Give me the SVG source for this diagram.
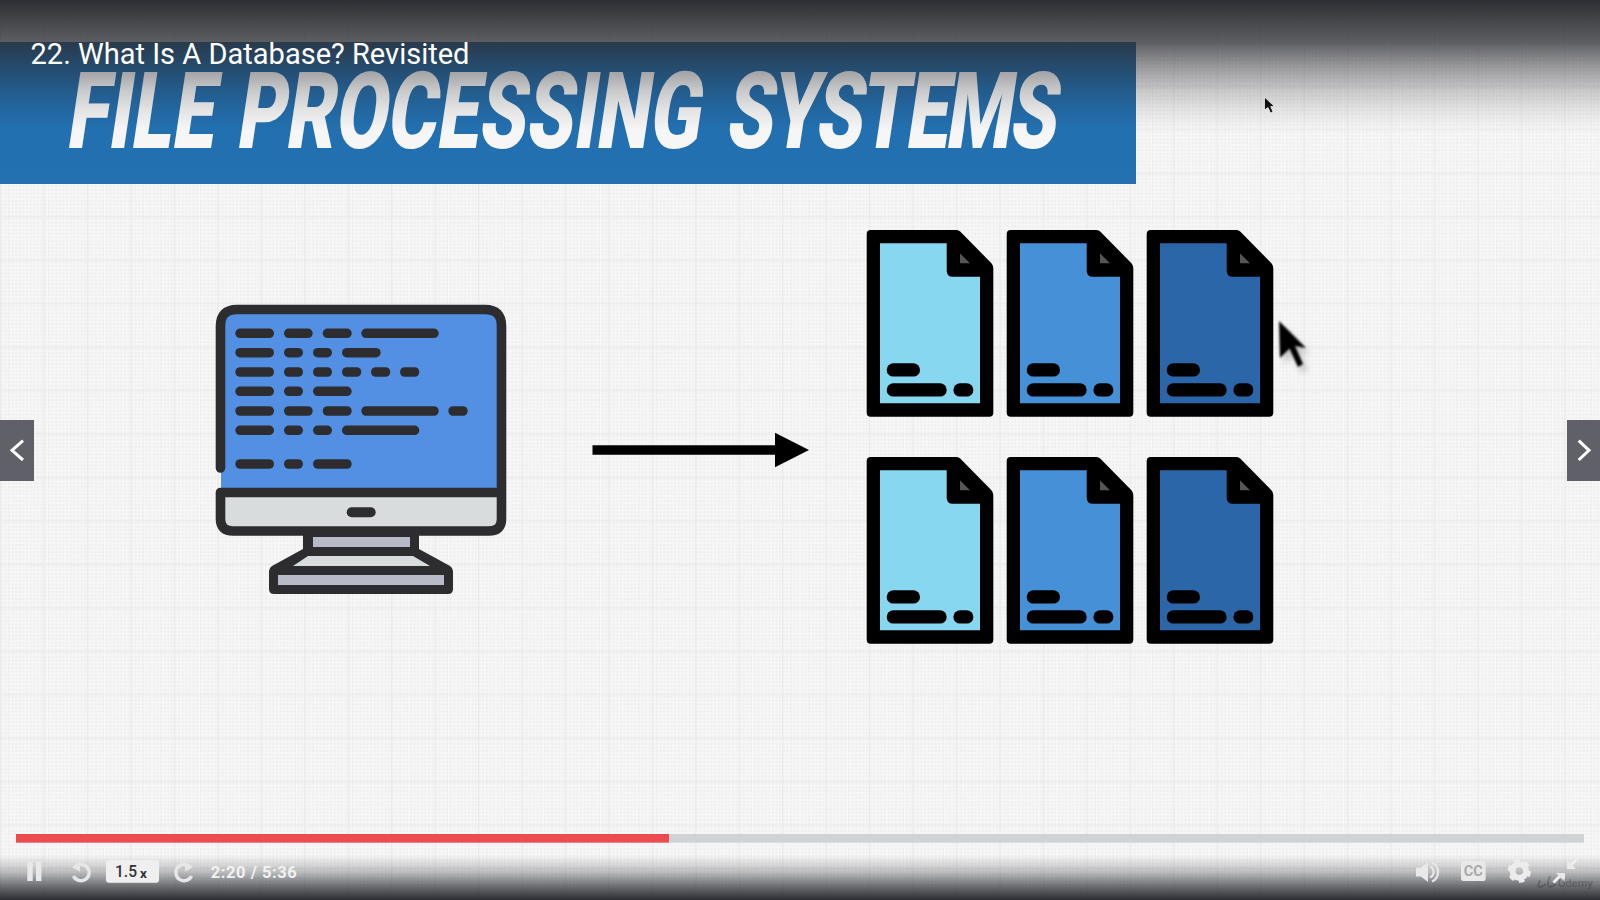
<svg xmlns="http://www.w3.org/2000/svg" width="1600" height="900" viewBox="0 0 1600 900">
<style>
.c{fill:#2d2d2f}
.ic{fill:#e9e9e9}
.st{fill:none;stroke:#e6e6e6;stroke-width:3.4}
.bar{fill:#000}
text{font-family:Roboto,"Liberation Sans",sans-serif}
</style>
<defs>
<pattern id="dots" width="3.62" height="3.62" patternUnits="userSpaceOnUse"><rect width="3.62" height="3.62" fill="#f6f6f6"/><circle cx="1.8" cy="1.8" r="0.9" fill="#ebebeb"/></pattern>
<pattern id="grid" width="43.45" height="43.45" x="0" y="-1" patternUnits="userSpaceOnUse"><path d="M0 0H43.45M0 0V43.45" stroke="#eaeaea" stroke-width="2.4" fill="none"/></pattern>
<linearGradient id="bannerG" x1="0" y1="0" x2="0" y2="1"><stop offset="0" stop-color="#1e5f98"/><stop offset="0.6" stop-color="#2270b0"/><stop offset="1" stop-color="#2470b0"/></linearGradient>
<linearGradient id="topG" x1="0" y1="0" x2="0" y2="1"><stop offset="0" stop-color="#2d2e33" stop-opacity="1"/><stop offset="0.32" stop-color="#2d2e33" stop-opacity="0.76"/><stop offset="0.5" stop-color="#2d2e33" stop-opacity="0.48"/><stop offset="0.7" stop-color="#2d2e33" stop-opacity="0.22"/><stop offset="0.85" stop-color="#2d2e33" stop-opacity="0.09"/><stop offset="1" stop-color="#2d2e33" stop-opacity="0"/></linearGradient>
<linearGradient id="botG" x1="0" y1="0" x2="0" y2="1"><stop offset="0" stop-color="#2b2d33" stop-opacity="0"/><stop offset="0.35" stop-color="#2b2d33" stop-opacity="0.25"/><stop offset="0.7" stop-color="#2b2d33" stop-opacity="0.68"/><stop offset="1" stop-color="#2b2d33" stop-opacity="1"/></linearGradient>
<filter id="blur" x="-40%" y="-40%" width="180%" height="180%"><feGaussianBlur stdDeviation="3"/></filter>
<filter id="soft" x="-20%" y="-20%" width="140%" height="140%"><feGaussianBlur stdDeviation="0.8"/></filter>
<marker id="head" markerUnits="userSpaceOnUse" markerWidth="35" markerHeight="36" refX="0.5" refY="18" orient="auto"><path d="M0 0.5L34.5 18L0 35.5Z" fill="#000"/></marker>
<g id="doc">
<path fill="#000" d="M4 0H90Q92 0 93.5 1.5L124.5 33Q126.6 35 126.6 38V182.7Q126.6 186.7 122.6 186.7H4Q0 186.7 0 182.7V4Q0 0 4 0Z"/>
<path d="M13.3 13.3H80V40.7Q80 46.7 86 46.7H113.3V173.3H13.3Z"/>
<path fill="#555" d="M93.3 23.3L103.3 33.3H93.3Z"/>
<rect class="bar" x="20" y="133.3" width="33.3" height="13.3" rx="6.67"/>
<rect class="bar" x="20" y="153.3" width="60" height="13.3" rx="6.67"/>
<rect class="bar" x="86.7" y="153.3" width="20" height="13.3" rx="6.67"/>
</g>
</defs>

<rect width="1600" height="900" fill="url(#dots)"/>
<rect width="1600" height="900" fill="url(#grid)"/>

<g id="banner">
<rect x="0" y="42" width="1136" height="142" fill="url(#bannerG)"/>
<text transform="translate(65 148) skewX(-8.5) scale(0.705 1)" font-weight="900" font-size="107" fill="#f6f6f6">FILE <tspan x="241">PROCESSING</tspan> <tspan x="935" letter-spacing="-3.2">SYSTEMS</tspan></text>
</g>

<rect id="top-shade" x="0" y="0" width="1600" height="130" fill="url(#topG)"/>
<rect id="bottom-shade" x="0" y="855" width="1600" height="45" fill="url(#botG)"/>

<text id="lecture-title" x="30.5" y="63.5" font-size="29" font-weight="400" fill="#fff" textLength="439" lengthAdjust="spacingAndGlyphs">22. What Is A Database? Revisited</text>

<path id="small-cursor" d="M1264.5 97L1264.5 110L1268 107.5L1270.5 113L1273 112L1270.7 106.6L1274.5 106.5Z" fill="#111" stroke="#fff" stroke-width="0.7"/>

<g id="monitor">
<path d="M221 326Q221 309 238 309H485Q501 309 501 326V493H221Z" fill="#5390e3"/>
<path d="M220.5 492H501.5V519Q501.5 531 489 531H233Q220.5 531 220.5 519Z" fill="#d9dcdc"/>
<path d="M220.5 468V326Q220.5 309.5 237 309.5H485Q501.5 309.5 501.5 326V519Q501.5 531 489 531H233Q220.5 531 220.5 519V492.5H501.5" fill="none" stroke="#2d2d2f" stroke-width="9.6" stroke-linecap="round" stroke-linejoin="round"/>
<rect class="c" x="346.7" y="507.3" width="29" height="10" rx="5"/>
<rect class="c" x="303" y="534" width="116" height="22"/>
<rect x="313" y="537" width="97" height="10" fill="#b9bac8"/>
<path class="c" d="M303 549L272 566Q269 568 269 571V589Q269 594 274 594H448Q453 594 453 589V571Q453 568 450 566L419 549Z"/>
<path d="M293 566H430L413 556H308Z" fill="#d9dcdc"/>
<rect x="278" y="575" width="166" height="10" fill="#b9bac8"/>
<g class="c">
<rect x="235.3" y="328.5" width="38.7" height="9.6" rx="4.8"/><rect x="284" y="328.5" width="28.7" height="9.6" rx="4.8"/><rect x="322.7" y="328.5" width="29" height="9.6" rx="4.8"/><rect x="361.3" y="328.5" width="77.4" height="9.6" rx="4.8"/>
<rect x="235.3" y="347.9" width="38.7" height="9.6" rx="4.8"/><rect x="284" y="347.9" width="19" height="9.6" rx="4.8"/><rect x="313" y="347.9" width="19" height="9.6" rx="4.8"/><rect x="342" y="347.9" width="38.7" height="9.6" rx="4.8"/>
<rect x="235.3" y="367.2" width="38.7" height="9.6" rx="4.8"/><rect x="284" y="367.2" width="19" height="9.6" rx="4.8"/><rect x="313" y="367.2" width="19" height="9.6" rx="4.8"/><rect x="342" y="367.2" width="19.3" height="9.6" rx="4.8"/><rect x="371" y="367.2" width="19.3" height="9.6" rx="4.8"/><rect x="400" y="367.2" width="19.3" height="9.6" rx="4.8"/>
<rect x="235.3" y="386.5" width="38.7" height="9.6" rx="4.8"/><rect x="284" y="386.5" width="19" height="9.6" rx="4.8"/><rect x="313" y="386.5" width="38.7" height="9.6" rx="4.8"/>
<rect x="235.3" y="406.2" width="38.7" height="9.6" rx="4.8"/><rect x="284" y="406.2" width="28.7" height="9.6" rx="4.8"/><rect x="322.7" y="406.2" width="29" height="9.6" rx="4.8"/><rect x="361.3" y="406.2" width="77.4" height="9.6" rx="4.8"/><rect x="448.3" y="406.2" width="19.4" height="9.6" rx="4.8"/>
<rect x="235.3" y="425.5" width="38.7" height="9.6" rx="4.8"/><rect x="284" y="425.5" width="19" height="9.6" rx="4.8"/><rect x="313" y="425.5" width="19" height="9.6" rx="4.8"/><rect x="342" y="425.5" width="77.3" height="9.6" rx="4.8"/>
<rect x="235.3" y="459.2" width="38.7" height="9.6" rx="4.8"/><rect x="284" y="459.2" width="19" height="9.6" rx="4.8"/><rect x="313" y="459.2" width="38.7" height="9.6" rx="4.8"/>
</g>
</g>

<g id="connectors">
<line x1="592.5" y1="450" x2="775" y2="450" stroke="#000" stroke-width="9.7" marker-end="url(#head)"/>
</g>

<g id="file-1"><use href="#doc" x="866.7" y="230" fill="#87d7f0"/></g>
<g id="file-2"><use href="#doc" x="1006.7" y="230" fill="#4690d8"/></g>
<g id="file-3"><use href="#doc" x="1146.7" y="230" fill="#2a66a8"/></g>
<g id="file-4"><use href="#doc" x="866.7" y="457" fill="#87d7f0"/></g>
<g id="file-5"><use href="#doc" x="1006.7" y="457" fill="#4690d8"/></g>
<g id="file-6"><use href="#doc" x="1146.7" y="457" fill="#2a66a8"/></g>

<g id="big-cursor">
<path d="M1283 327L1284 364L1293.5 354.5L1302 373L1307 370L1299 352L1310 354Z" fill="#777" opacity="0.4" filter="url(#blur)"/>
<path d="M1279 321L1280 358L1289.5 348.5L1298 367L1303 364L1295 346L1306 348Z" fill="#000" filter="url(#soft)"/>
</g>

<g id="prev-button"><rect x="0" y="420" width="34" height="61" fill="#5f6068"/><path d="M23 440.7L12 450.3L23 460" fill="none" stroke="#fff" stroke-width="3"/></g>
<g id="next-button"><rect x="1567" y="420" width="33" height="61" fill="#5f6068"/><path d="M1578.7 440.7L1589 450.3L1578.7 460" fill="none" stroke="#fff" stroke-width="3"/></g>

<g id="progress">
<rect x="669" y="834" width="915" height="8.7" fill="#cfd3d5"/>
<rect x="16" y="834" width="653" height="8.7" fill="#ea4c50"/>
</g>

<g id="controls-left">
<rect class="ic" x="27.3" y="861.7" width="5.4" height="19.3"/><rect class="ic" x="36" y="861.7" width="5.4" height="19.3"/>
<path class="st" d="M74.5 867.5A8.2 8.2 0 1 1 73.5 876"/><path d="M79.5 862L72 867.5L80 871.5Z" fill="#e6e6e6"/>
<rect x="106" y="860" width="53" height="22.7" rx="3" fill="#efefef"/>
<text x="115" y="877" font-size="17" font-weight="500" fill="#333" textLength="22" lengthAdjust="spacingAndGlyphs">1.5</text>
<text x="140" y="878" font-size="13.5" font-weight="700" fill="#333">x</text>
<path class="st" d="M190.5 867.5A8.2 8.2 0 1 0 191.5 876"/><path d="M185.5 862L193 867.5L185 871.5Z" fill="#e6e6e6"/>
<text x="210.7" y="878.3" font-size="16.5" font-weight="700" fill="#f2f2f2" textLength="86" lengthAdjust="spacing">2:20 / 5:36</text>
</g>

<g id="controls-right">
<path class="ic" d="M1416 867.5H1421L1428 862V882L1421 876.5H1416Z"/>
<path d="M1430 866.5A6 6 0 0 1 1430 877.5M1432 862.5A10.5 10.5 0 0 1 1432 881.5" fill="none" stroke="#e6e6e6" stroke-width="2.4"/>
<rect class="ic" x="1461" y="861" width="24.7" height="20" rx="2.5"/>
<text x="1473.3" y="876" font-size="14.5" font-weight="700" fill="#a9a9a9" text-anchor="middle">CC</text>
<circle cx="1519.3" cy="871" r="6.8" fill="none" stroke="#ececec" stroke-width="6"/>
<circle cx="1519.3" cy="871" r="10" fill="none" stroke="#ececec" stroke-width="3.4" stroke-dasharray="5.5 4.97"/>
<path d="M1553.5 882.5L1560.5 875.5" stroke="#f0f0f0" stroke-width="3" fill="none"/><path class="ic" d="M1556 873H1565V882Z"/>
<path d="M1576.5 859.5L1569.5 866.5" stroke="#f0f0f0" stroke-width="3" fill="none"/><path class="ic" d="M1567 860V869H1576Z"/>
<path d="M1540 880Q1535 892 1546 884M1550 876Q1544 892 1556 884" fill="none" stroke="#000" stroke-opacity="0.2" stroke-width="2"/>
<text x="1558" y="887" font-size="11.5" font-weight="700" fill="#000" fill-opacity="0.22" textLength="35">Udemy</text>
</g>
</svg>
